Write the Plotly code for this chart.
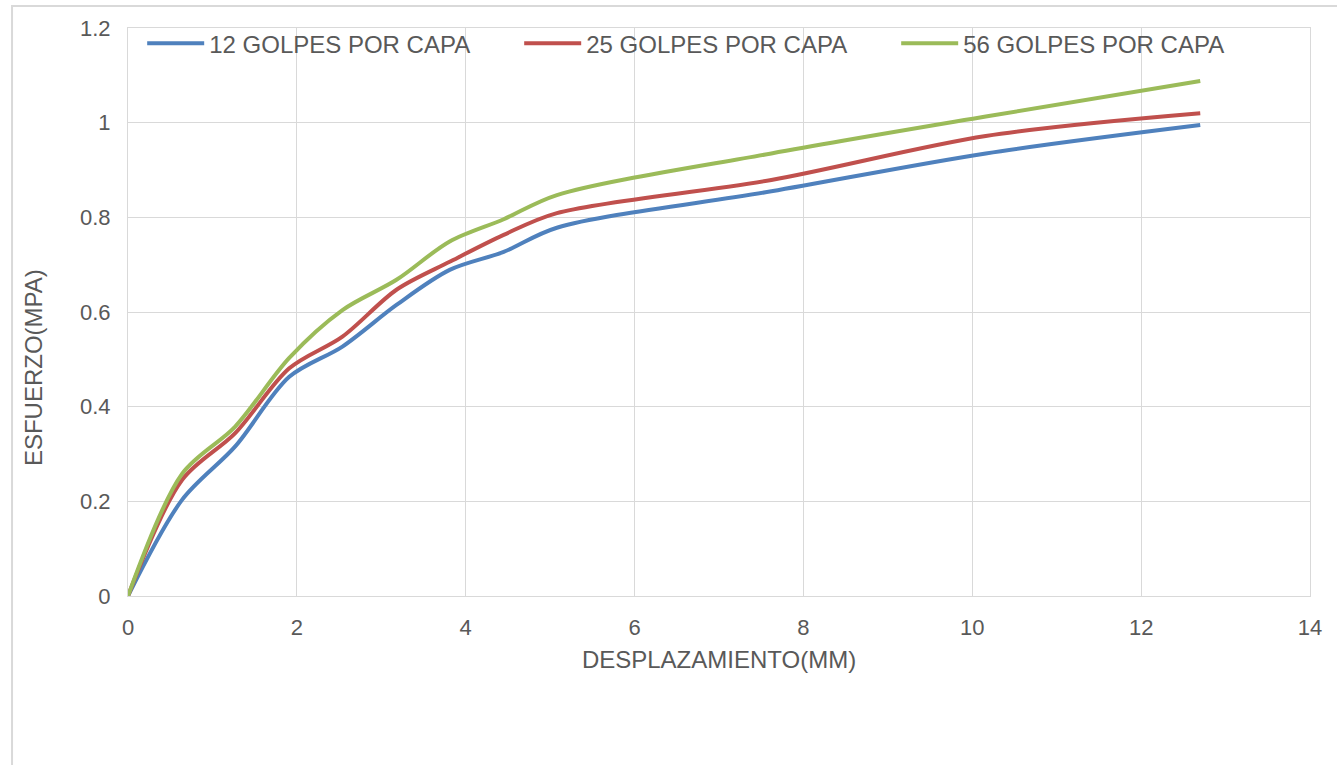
import plotly.graph_objects as go

# CBR-style penetration readings (mm) and stresses (MPa) for three compaction energies
desplazamiento = [0, 0.64, 1.27, 1.91, 2.54, 3.18, 3.81, 4.45, 5.08, 7.62, 10.16, 12.7]
golpes_12 = [0, 0.203, 0.316, 0.463, 0.527, 0.615, 0.689, 0.727, 0.778, 0.855, 0.935, 0.995]
golpes_25 = [0, 0.245, 0.344, 0.481, 0.548, 0.647, 0.706, 0.763, 0.809, 0.879, 0.972, 1.020]
golpes_56 = [0, 0.258, 0.358, 0.503, 0.604, 0.668, 0.749, 0.796, 0.847, 0.935, 1.013, 1.088]

nombres = ["12 GOLPES POR CAPA", "25 GOLPES POR CAPA", "56 GOLPES POR CAPA"]
colores = ["#4f81bd", "#c0504d", "#9bbb59"]
series = [golpes_12, golpes_25, golpes_56]

x_ticks = [0, 2, 4, 6, 8, 10, 12, 14]
y_ticks = [0, 0.2, 0.4, 0.6, 0.8, 1.0, 1.2]

FONT = "Liberation Sans, Arial, sans-serif"
TXT = "#595959"
GRID = "#d9d9d9"

fig = go.Figure()
for nombre, color, ys in zip(nombres, colores, series):
    fig.add_trace(go.Scatter(
        x=desplazamiento, y=ys, name=nombre, mode="lines",
        line=dict(color=color, width=4, shape="spline", smoothing=0.9),
    ))

axis_common = dict(
    showgrid=True, gridcolor=GRID, gridwidth=1,
    zeroline=False, showline=True, linecolor=GRID, linewidth=1, mirror=True,
    ticks="outside", tickcolor="rgba(0,0,0,0)", ticklen=12,
    tickfont=dict(family=FONT, size=22, color=TXT),
)

fig.update_layout(
    width=1337, height=765,
    margin=dict(l=128, r=27, t=28, b=169),
    paper_bgcolor="white", plot_bgcolor="white",
    font=dict(family=FONT, color=TXT),
    xaxis=dict(range=[0, 14], tickvals=x_ticks, **axis_common,
               title=dict(text="DESPLAZAMIENTO(MM)",
                          font=dict(family=FONT, size=24, color=TXT), standoff=11)),
    yaxis=dict(range=[0, 1.2], tickvals=y_ticks, **axis_common),
    legend=dict(orientation="h", x=0.012, y=1.012, xanchor="left", yanchor="top",
                bgcolor="rgba(0,0,0,0)",
                font=dict(family=FONT, size=24, color=TXT),
                entrywidth=305, entrywidthmode="pixels", itemwidth=57),
    annotations=[dict(text="ESFUERZO(MPA)", textangle=-90, showarrow=False,
                      xref="paper", yref="paper", x=-0.0804, y=0.403,
                      xanchor="center", yanchor="middle",
                      font=dict(family=FONT, size=24, color=TXT))],
    shapes=[dict(type="rect", xref="paper", yref="paper",
                 x0=-0.0981, x1=1.2, y0=-0.5, y1=1.0387,
                 line=dict(color=GRID, width=2), layer="below")],
)

fig.write_html("out.html")
